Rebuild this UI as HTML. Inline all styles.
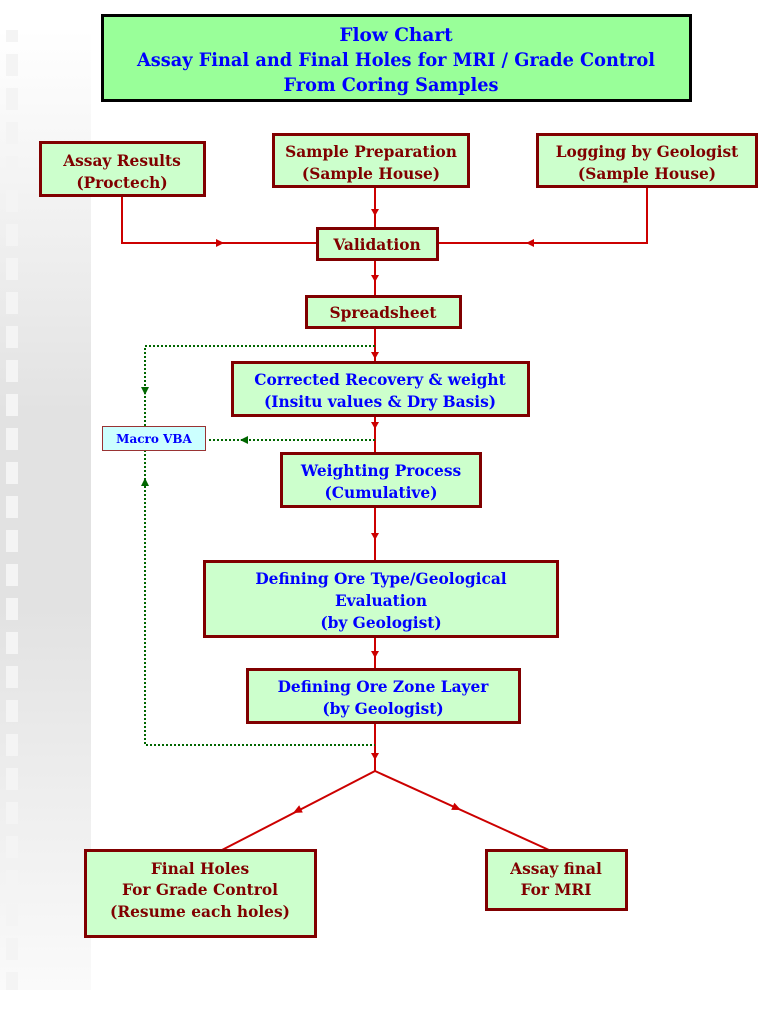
<!DOCTYPE html>
<html><head><style>
body{margin:0;background:#fff;}
svg text{font-family:"DejaVu Serif",serif;font-weight:bold;}
</style></head><body>
<svg width="768" height="1024" viewBox="0 0 768 1024" xmlns="http://www.w3.org/2000/svg">
<defs>
<linearGradient id="g" x1="0" y1="0" x2="0" y2="1">
<stop offset="0" stop-color="#fff"/>
<stop offset="0.4" stop-color="#e2e2e2"/>
<stop offset="0.6" stop-color="#e2e2e2"/>
<stop offset="1" stop-color="#fafafa"/>
</linearGradient>
<pattern id="sq" x="0" y="20" width="91" height="34" patternUnits="userSpaceOnUse">
<rect x="6" y="0" width="12" height="22" fill="#f4f4f4"/>
</pattern>
</defs>
<rect x="0" y="30" width="91" height="960" fill="url(#g)"/>
<rect x="0" y="30" width="91" height="960" fill="url(#sq)"/>

<rect x="102.5" y="15.5" width="588" height="85" fill="#99ff99" stroke="#000" stroke-width="3"/>
<g fill="#0000ff" font-size="18.5" text-anchor="middle">
<text x="396" y="41">Flow Chart</text>
<text x="396" y="66" textLength="518" lengthAdjust="spacingAndGlyphs">Assay Final and Final Holes for MRI / Grade Control</text>
<text x="391" y="91" textLength="215" lengthAdjust="spacingAndGlyphs">From Coring Samples</text>
</g>

<g stroke="#cc0000" stroke-width="2" fill="none">
<path d="M122 196 V243 H318"/>
<path d="M647 187 V243 H437"/>
<path d="M375 187 V228"/>
<path d="M375 260 V296"/>
<path d="M375 328 V362"/>
<path d="M375 416 V453"/>
<path d="M375 507 V561"/>
<path d="M375 637 V669"/>
<path d="M375 723 V771"/>
<path d="M375 771 L222 850"/>
<path d="M375 771 L549 850"/>
</g>
<g fill="#cc0000">
<path d="M224 243 l-8 -4 v8z"/>
<path d="M526 243 l8 -4 v8z"/>
<path d="M375 216 l-4 -7 h8z"/>
<path d="M375 282 l-4 -7 h8z"/>
<path d="M375 359 l-4 -7 h8z"/>
<path d="M375 429 l-4 -7 h8z"/>
<path d="M375 540 l-4 -7 h8z"/>
<path d="M375 658 l-4 -7 h8z"/>
<path d="M375 760 l-4 -7 h8z"/>
<path d="M293 813 L302.8 812.5 L299.2 805.3z"/>
<path d="M461 810 L451.2 809.9 L454.4 802.7z"/>
</g>

<g stroke="#006600" stroke-width="2" fill="none" stroke-dasharray="2,2">
<path d="M375 346 H145 V426"/>
<path d="M145 450 V745 H375"/>
<path d="M375 440 H207"/>
</g>
<g fill="#006600">
<path d="M145 395 l-4 -8 h8z"/>
<path d="M145 478 l-4 8 h8z"/>
<path d="M240 440 l8 -4 v8z"/>
</g>

<g fill="#ccffcc" stroke="#800000" stroke-width="3">
<rect x="40.5" y="142.5" width="164" height="53"/>
<rect x="273.5" y="134.5" width="195" height="52"/>
<rect x="537.5" y="134.5" width="219" height="52"/>
<rect x="317.5" y="228.5" width="120" height="31"/>
<rect x="306.5" y="296.5" width="154" height="31"/>
<rect x="232.5" y="362.5" width="296" height="53"/>
<rect x="281.5" y="453.5" width="199" height="53"/>
<rect x="204.5" y="561.5" width="353" height="75"/>
<rect x="247.5" y="669.5" width="272" height="53"/>
<rect x="85.5" y="850.5" width="230" height="86"/>
<rect x="486.5" y="850.5" width="140" height="59"/>
</g>
<rect x="102.5" y="426.5" width="103" height="24" fill="#ccffff" stroke="#993333" stroke-width="1"/>

<g fill="#800000" font-size="15.4" text-anchor="middle">
<text x="122" y="166">Assay Results</text>
<text x="122" y="188">(Proctech)</text>
<text x="371" y="157">Sample Preparation</text>
<text x="371" y="179">(Sample House)</text>
<text x="647" y="157">Logging by Geologist</text>
<text x="647" y="179">(Sample House)</text>
<text x="377" y="250">Validation</text>
<text x="383" y="318">Spreadsheet</text>
<text x="200" y="874">Final Holes</text>
<text x="200" y="895">For Grade Control</text>
<text x="200" y="917">(Resume each holes)</text>
<text x="556" y="874">Assay final</text>
<text x="556" y="895">For MRI</text>
</g>
<g fill="#0000ff" font-size="15.4" text-anchor="middle">
<text x="380" y="385">Corrected Recovery &amp; weight</text>
<text x="380" y="407">(Insitu values &amp; Dry Basis)</text>
<text x="381" y="476">Weighting Process</text>
<text x="381" y="498">(Cumulative)</text>
<text x="381" y="584">Defining Ore Type/Geological</text>
<text x="381" y="606">Evaluation</text>
<text x="381" y="628">(by Geologist)</text>
<text x="383" y="692">Defining Ore Zone Layer</text>
<text x="383" y="714">(by Geologist)</text>
<text x="154" y="443" font-size="12">Macro VBA</text>
</g>
</svg>
</body></html>
